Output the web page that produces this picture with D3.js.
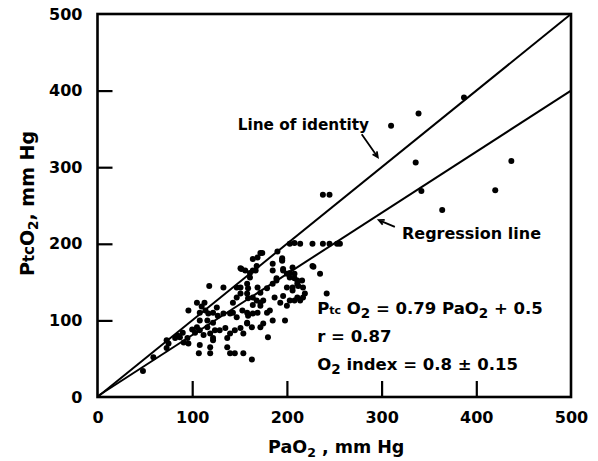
<!DOCTYPE html>
<html><head><meta charset="utf-8">
<script src="https://cdn.jsdelivr.net/npm/d3@7"></script>
<style>
html,body{margin:0;padding:0;background:#fff;}
svg{display:block;}
text{font-family:"DejaVu Sans",sans-serif;font-weight:bold;fill:#000;}
</style></head>
<body><svg id="c" width="598" height="461"></svg>
<script>
// ---- data ----
const xTicks = [0,100,200,300,400,500];
const yTicks = [0,100,200,300,400,500];
const paO2 = [48,59,73,75,73,82,87,91,95,96,103,105,108,112,116,119,122,124,
 96,105,113,108,114,117,122,127,133,140,108,116,122,118,133,
 108,119,122,119,107,129,135,137,140,137,140,145,154,163,
 143,147,151,158,159,164,168,164,172,151,158,161,156,151,164,168,172,
 143,147,153,158,158,159,164,169,145,151,158,163,154,172,175,
 172,175,179,182,185,187,193,196,200,203,206,211,
 172,179,185,185,189,195,196,200,203,206,208,211,
 180,198,195,203,208,200,206,212,
 214,227,238,245,253,256,208,211,216,217,227,235,208,214,217,219,242,
 174,169,164,161,147,159,169,152,167,185,196,203,189,228,190,195,
 85,90,100,110,126,
 238,245,310,339,387,336,342,364,437,420];
const ptcO2 = [34,52,64,70,74,77,78,71,77,70,84,91,87,81,91,83,77,87,
 113,123,123,110,113,109,110,106,109,109,100,100,97,145,143,
 68,65,74,57,57,87,90,77,83,65,57,57,57,49,
 123,130,135,135,129,130,126,120,123,143,148,156,165,168,165,171,188,
 110,104,113,110,97,106,109,110,87,90,96,91,83,91,96,
 119,126,110,113,100,130,123,132,119,126,139,130,
 136,142,174,148,155,181,165,161,162,169,155,148,
 78,100,179,200,201,143,143,145,
 200,200,200,200,200,200,161,152,152,143,171,161,126,126,130,135,135,
 188,182,180,162,143,142,143,167,165,165,167,156,152,170,190,178,
 80,84,88,118,117,
 264,264,354,370,391,306,269,244,308,270];
const identityLine = [[0,0],[500,500]];
const regressionLine = [[0,1],[500,400]];
const eqLines = ["r = 0.87"];

// ---- drawing ----
const svg = d3.select("#c");
const x = d3.scaleLinear().domain([0,500]).range([97.5,571]);
const y = d3.scaleLinear().domain([0,500]).range([397,14]);

// lines
const line = d3.line().x(d=>x(d[0])).y(d=>y(d[1]));
svg.append("path").attr("d",line(identityLine)).attr("fill","none").attr("stroke","#000").attr("stroke-width",2);
svg.append("path").attr("d",line(regressionLine)).attr("fill","none").attr("stroke","#000").attr("stroke-width",2);

// points
svg.append("g").selectAll("circle").data(paO2.map((v,i)=>[v,ptcO2[i]])).join("circle")
  .attr("cx",d=>x(d[0])).attr("cy",d=>y(d[1])).attr("r",3).attr("fill","#000");

// axes
const xa = svg.append("g").attr("transform",`translate(0,${y(0)})`)
  .call(d3.axisBottom(x).tickValues(xTicks).tickSizeInner(-16).tickSizeOuter(0).tickPadding(15));
const ya = svg.append("g").attr("transform",`translate(${x(0)},0)`)
  .call(d3.axisLeft(y).tickValues(yTicks).tickSizeInner(-15).tickSizeOuter(0).tickPadding(15));
[xa,ya].forEach(a=>{
  a.select(".domain").remove();
  a.selectAll(".tick line").attr("stroke","#000").attr("stroke-width",2.2);
  a.selectAll(".tick text").attr("font-family","DejaVu Sans").attr("font-weight","bold").attr("font-size",16).attr("fill","#000");
});
xa.selectAll(".tick").filter(d=>d===0||d===500).select("line").remove();
ya.selectAll(".tick").filter(d=>d===0||d===500).select("line").remove();

// frame
svg.append("rect").attr("x",x(0)).attr("y",y(500)).attr("width",x(500)-x(0)).attr("height",y(0)-y(500))
  .attr("fill","none").attr("stroke","#000").attr("stroke-width",2.6);

// axis titles
const xt = svg.append("text").attr("x",(x(0)+x(500))/2+2).attr("y",453).attr("text-anchor","middle").attr("font-size",17.5);
xt.append("tspan").text("PaO");
xt.append("tspan").attr("font-size",12.5).attr("dy",4).text("2");
xt.append("tspan").attr("dy",-4).text(" , mm Hg");

const yt = svg.append("text").attr("transform",`translate(34,${(y(0)+y(500))/2-2}) rotate(-90)`).attr("text-anchor","middle").attr("font-size",19);
yt.append("tspan").text("P");
yt.append("tspan").attr("font-size",15).text("tc");
yt.append("tspan").text("O");
yt.append("tspan").attr("font-size",13.5).attr("dy",4).text("2");
yt.append("tspan").attr("dy",-4).text(", mm Hg");

// annotations
const arrow = (p0,p1)=>{
  const X0=x(p0[0]),Y0=y(p0[1]),X1=x(p1[0]),Y1=y(p1[1]);
  const ang=Math.atan2(Y1-Y0,X1-X0), L=6;
  svg.append("path").attr("d",`M${X0},${Y0}L${X1},${Y1}M${X1-L*Math.cos(ang-0.45)},${Y1-L*Math.sin(ang-0.45)}L${X1},${Y1}L${X1-L*Math.cos(ang+0.45)},${Y1-L*Math.sin(ang+0.45)}`)
    .attr("fill","none").attr("stroke","#000").attr("stroke-width",1.8);
};
svg.append("text").attr("x",x(148)).attr("y",y(348)).attr("font-size",15.3).text("Line of identity");
arrow([279,343],[296,313]);
svg.append("text").attr("x",x(321.5)).attr("y",y(206)).attr("font-size",16).text("Regression line");
arrow([314,222],[297,231]);

const eq = svg.append("text").attr("x",x(232)).attr("y",y(108)).attr("font-size",16.5);
eq.append("tspan").text("P");
eq.append("tspan").attr("font-size",11).text("tc");
eq.append("tspan").text(" O");
eq.append("tspan").attr("font-size",13.5).attr("dy",4).text("2");
eq.append("tspan").attr("dy",-4).text(" = 0.79 PaO");
eq.append("tspan").attr("font-size",13.5).attr("dy",4).text("2");
eq.append("tspan").attr("dy",-4).text(" + 0.5");
svg.append("text").attr("x",x(232)).attr("y",y(72)).attr("font-size",16.5).text(eqLines[0]);
const oi = svg.append("text").attr("x",x(232)).attr("y",y(35)).attr("font-size",16.5);
oi.append("tspan").text("O");
oi.append("tspan").attr("font-size",13.5).attr("dy",4).text("2");
oi.append("tspan").attr("dy",-4).text(" index = 0.8 ± 0.15");
</script></body></html>
